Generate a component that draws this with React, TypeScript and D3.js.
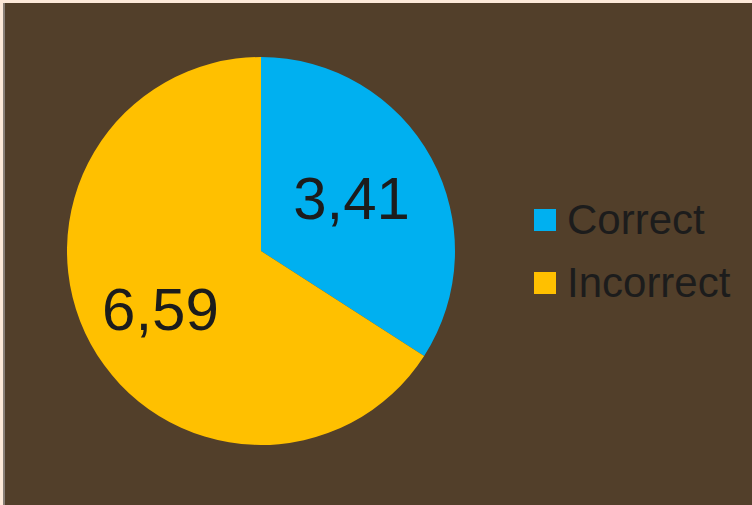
import React from "react";
import * as d3 from "d3";

const categories = ["Correct", "Incorrect"];
const values = [3.41, 6.59];
const labels = ["3,41", "6,59"];
const colors = ["#00b0f0", "#ffc000"];

export default function App() {
  const W = 752, H = 505;
  const cx = 261, cy = 251, r = 194;
  const pie = d3.pie<number>().sort(null).value((d) => d)(values);
  const arc = d3.arc<d3.PieArcDatum<number>>().innerRadius(0).outerRadius(r);
  const labelArc = d3.arc<d3.PieArcDatum<number>>().innerRadius(r * 0.62).outerRadius(r * 0.62);
  const labelOffsets = [[-15, 5], [5, 1]];
  const legendY = d3.scalePoint<string>().domain(categories).range([220, 283]);
  return (
    <svg width={W} height={H} style={{ position: "fixed", left: 0, top: 0 }}
      fontFamily="'Liberation Sans', Arial, sans-serif">
      <rect x={0} y={0} width={W} height={H} fill="#fde9d9" />
      <rect x={3} y={3} width={2} height={H - 3} fill="#8a8078" />
      <rect x={5} y={3} width={W - 5} height={H - 3} fill="#523f2a" />
      <g transform={`translate(${cx},${cy})`}>
        {pie.map((p, i) => (
          <path key={i} d={arc(p) as string} fill={colors[i]} />
        ))}
        {pie.map((p, i) => {
          const [x, y] = labelArc.centroid(p);
          return (
            <text key={i} x={x + labelOffsets[i][0]} y={y + labelOffsets[i][1]}
              textAnchor="middle" dominantBaseline="central" fontSize={60} fill="#1c1c1c">
              {labels[i]}
            </text>
          );
        })}
      </g>
      {categories.map((c, i) => (
        <g key={c} transform={`translate(534,${legendY(c)})`}>
          <rect x={0} y={-11} width={22} height={22} fill={colors[i]} />
          <text x={33} y={14} fontSize={42} fill="#1c1c1c">{c}</text>
        </g>
      ))}
    </svg>
  );
}
